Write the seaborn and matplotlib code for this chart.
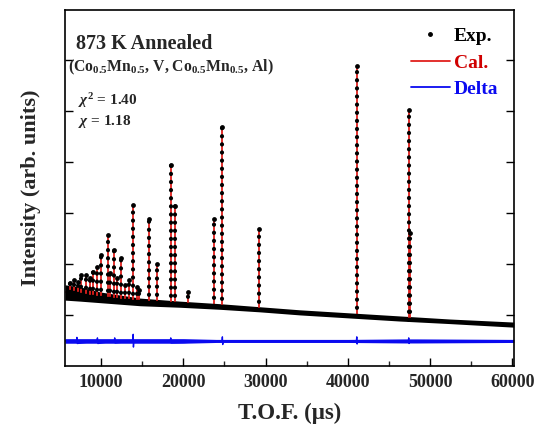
import numpy as np
import pandas as pd
import matplotlib
matplotlib.use("Agg")
import matplotlib.pyplot as plt
from matplotlib.lines import Line2D
import seaborn as sns

# ---------------- data ----------------
# background band of the experimental points (T.O.F. in us, intensity arb.)
bg_tof = [5600, 7450, 9880, 14740, 19600, 24460, 29320, 34180, 40250, 46330, 52400, 60200]
bg_upper = [1.59, 1.55, 1.45, 1.33, 1.27, 1.22, 1.16, 1.10, 1.04, 0.98, 0.92, 0.86]
bg_lower = [1.29, 1.27, 1.24, 1.18, 1.15, 1.11, 1.06, 1.00, 0.94, 0.88, 0.83, 0.76]
bg_cal = [1.45, 1.39, 1.33, 1.25, 1.20, 1.16, 1.10, 1.04, 0.98, 0.92, 0.88, 0.80]

# Bragg peaks: position, base and top
peak_tof = [6260, 6680, 7200, 7600, 8170, 8610, 8980, 9550, 10040, 10810,
            11120, 11600, 11940, 12470, 12950, 13350, 13900, 14370, 14620, 15870,
            16830, 18470, 18990, 20610, 23730, 24750, 29150, 41100, 47420, 47560]
peak_base = [1.44, 1.43, 1.41, 1.39, 1.37, 1.36, 1.35, 1.34, 1.33, 1.31,
             1.31, 1.30, 1.29, 1.28, 1.28, 1.27, 1.26, 1.26, 1.25, 1.24,
             1.23, 1.21, 1.21, 1.19, 1.17, 1.16, 1.10, 0.97, 0.91, 0.91]
peak_int = [1.63, 1.69, 1.65, 1.78, 1.78, 1.73, 1.85, 1.94, 2.18, 2.57,
            1.82, 2.27, 1.73, 2.12, 1.59, 1.69, 3.16, 1.55, 1.49, 2.88,
            2.00, 3.94, 3.14, 1.45, 2.88, 4.69, 2.68, 5.88, 5.02, 2.60]

# difference curve: centre line and noise band
delta_tof = [5600, 7000, 7050, 7100, 9500, 9550, 9600, 11600, 11650, 11700,
             13850, 13900, 13930, 13980, 18400, 18470, 18520, 24700, 24750, 24790,
             24850, 41050, 41100, 41140, 41200, 47370, 47420, 47460, 47520, 60200]
delta_val = [0.49, 0.49, 0.56, 0.44, 0.49, 0.55, 0.44, 0.49, 0.55, 0.45,
             0.49, 0.62, 0.37, 0.49, 0.49, 0.55, 0.45, 0.49, 0.57, 0.42,
             0.49, 0.49, 0.57, 0.43, 0.49, 0.49, 0.55, 0.44, 0.49, 0.49]
dband_tof = [5600, 20000, 24000, 40000, 47000, 48500, 60200]
dband_lo = [0.445, 0.445, 0.46, 0.46, 0.45, 0.45, 0.46]
dband_hi = [0.535, 0.535, 0.52, 0.52, 0.53, 0.53, 0.52]

x_ticks = [10000, 20000, 30000, 40000, 50000, 60000]
y_ticks = [1, 2, 3, 4, 5, 6]

# ---------------- style ----------------
sns.set_theme(style="ticks")
plt.rcParams["font.family"] = ["Liberation Serif", "DejaVu Serif"]
plt.rcParams["font.weight"] = "bold"
plt.rcParams["mathtext.fontset"] = "custom"
plt.rcParams["mathtext.rm"] = "Liberation Serif:bold"
plt.rcParams["mathtext.it"] = "Liberation Serif:italic:bold"
plt.rcParams["mathtext.bf"] = "Liberation Serif:bold"
plt.rcParams["mathtext.default"] = "rm"

RED = "#e0201c"
BLUE = "#0a0af0"

fig = plt.figure(figsize=(5.46, 4.28), dpi=100)
ax = fig.add_axes([0.119, 0.145, 0.822, 0.832])

bg = pd.DataFrame({"tof": bg_tof, "cal": bg_cal})
dl = pd.DataFrame({"tof": delta_tof, "delta": delta_val})

# Cal. background (under the experimental band)
sns.lineplot(data=bg, x="tof", y="cal", color=RED, lw=1.0, ax=ax, zorder=1)
# Exp. background band
ax.fill_between(bg_tof, bg_lower, bg_upper, color="black", lw=0, zorder=2)
# Cal. peaks
ax.vlines(peak_tof, peak_base, peak_int, colors=RED, lw=1.3, zorder=3)
# Exp. points along peaks
ax.vlines(peak_tof, peak_base, peak_int, colors="black", lw=3.0,
          linestyles=(0, (0.05, 1.9)), capstyle="round", zorder=4)
sns.scatterplot(x=peak_tof, y=peak_int, color="black", s=12, linewidth=0, ax=ax, zorder=5)
# Delta
ax.fill_between(dband_tof, dband_lo, dband_hi, color=BLUE, lw=0, zorder=2)
sns.lineplot(data=dl, x="tof", y="delta", color=BLUE, lw=1.0, ax=ax, zorder=2)

ax.set_xlim(5600, 60200)
ax.set_ylim(0, 6.98)
ax.set_xticks(x_ticks)
ax.set_xticklabels([str(v) for v in x_ticks], fontsize=13, fontweight="bold")
ax.set_xticks([15000, 25000, 35000, 45000, 55000], minor=True)
ax.set_yticks(y_ticks)
ax.set_yticklabels([])
ax.tick_params(axis="both", which="major", direction="in", length=6, width=1.0,
               color="black", pad=6)
ax.tick_params(axis="x", which="minor", direction="in", length=3.5, width=1.0, bottom=True)
ax.tick_params(axis="y", right=True, left=True)
for s in ax.spines.values():
    s.set_linewidth(1.2)
    s.set_color("black")
    s.set_visible(True)

ax.set_xlabel("T.O.F. (μs)", fontsize=16.5, fontweight="bold", labelpad=8)
ax.set_ylabel("Intensity (arb. units)", fontsize=16, fontweight="bold", labelpad=11)

# annotations
ax.text(0.024, 0.89, "873 K Annealed", transform=ax.transAxes, fontsize=14.5,
        fontweight="bold", ha="left", va="baseline")
ax.text(0.006, 0.826, r"(Co$_{0.5}$Mn$_{0.5}$, V, Co$_{0.5}$Mn$_{0.5}$, Al)",
        transform=ax.transAxes, fontsize=11.3, fontweight="bold", ha="left", va="baseline")
ax.text(0.03, 0.733, r"$\mathit{\chi}^{2}$ = 1.40", transform=ax.transAxes, fontsize=11,
        fontweight="bold", ha="left", va="baseline")
ax.text(0.03, 0.676, r"$\mathit{\chi}$ = 1.18", transform=ax.transAxes, fontsize=11,
        fontweight="bold", ha="left", va="baseline")

handles = [Line2D([], [], ls="none", marker="o", ms=2.5, color="black"),
           Line2D([], [], color=RED, lw=1.3),
           Line2D([], [], color=BLUE, lw=1.3)]
leg = ax.legend(handles, ["Exp.", "Cal.", "Delta"], loc="upper right",
                bbox_to_anchor=(0.965, 0.95), frameon=False, fontsize=14,
                handlelength=2.0, handletextpad=0.2, labelspacing=0.45,
                borderpad=0, borderaxespad=0)
for t, c in zip(leg.get_texts(), ["black", "#d00000", BLUE]):
    t.set_color(c)
    t.set_fontweight("bold")

fig.savefig("out.png", dpi=100)
